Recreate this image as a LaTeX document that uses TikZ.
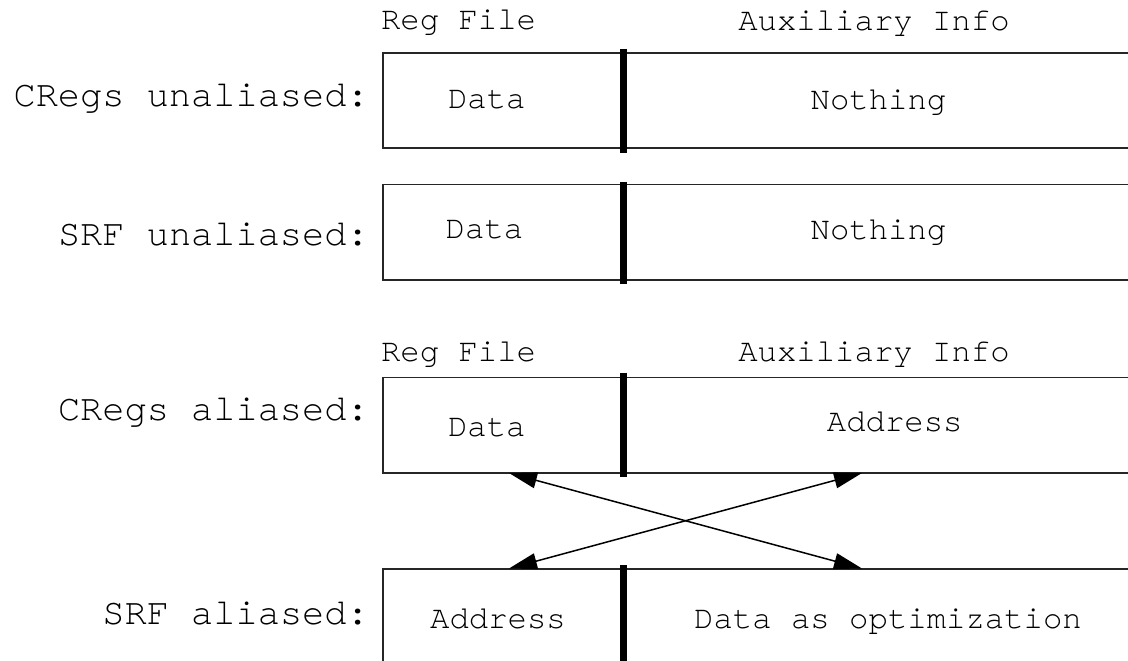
\documentclass[tikz,border=0pt]{standalone}
\usepackage{fontspec}
\setmonofont{TeX Gyre Cursor}
\usetikzlibrary{arrows.meta}
\begin{document}
\begin{tikzpicture}[x=1pt,y=-1pt,
  boxline/.style={draw=black!85, line width=1.5pt},
  divider/.style={draw=black, line width=7pt},
  cell/.style={font=\fontsize{32.3}{36}\selectfont\ttfamily, inner sep=0pt, anchor=base},
  lbl/.style={font=\fontsize{37}{42}\selectfont\ttfamily, inner sep=0pt, anchor=base east},
  link/.style={line width=1.5pt, {Triangle[length=28pt,width=16pt]}-{Triangle[length=28pt,width=16pt]}}]
\useasboundingbox (0,0) rectangle (1128,661);
\clip (0,0) rectangle (1128,661);

% row 1
\node[cell] (h1a) at (458.6,30) {Reg File};
\node[cell] (h1b) at (874,30.5) {Auxiliary Info};
\draw[boxline] (383,53) rectangle (1140,148);
\draw[divider] (623,49) -- (623,152.5);
\node[lbl] (l1) at (369,106.7) {CRegs unaliased:};
\node[cell] (d1) at (486.8,108.5) {Data};
\node[cell] (n1) at (878.5,109.5) {Nothing};

% row 2
\draw[boxline] (383,184.3) rectangle (1140,280);
\draw[divider] (623,181.7) -- (623,284);
\node[lbl] (l2) at (369,245) {SRF unaliased:};
\node[cell] (d2) at (484.5,238.5) {Data};
\node[cell] (n2) at (878.5,239.5) {Nothing};

% row 3
\node[cell] (h3a) at (458.6,361.7) {Reg File};
\node[cell] (h3b) at (874,361) {Auxiliary Info};
\draw[boxline] (383,377.3) rectangle (1140,473);
\draw[divider] (623,372.7) -- (623,476.7);
\node[lbl] (l3) at (369,420) {CRegs aliased:};
\node[cell] (d3) at (486.8,436.7) {Data};
\node[cell] (a3) at (894.7,431.7) {Address};

% row 4
\draw[boxline] (383,569) rectangle (1140,700);
\draw[divider] (623,565) -- (623,680);
\node[lbl] (l4) at (369,624) {SRF aliased:};
\node[cell] (a4) at (498,628) {Address};
\node[cell] (o4) at (888,628) {Data as optimization};

% connectors
\coordinate (t3l) at (509,473);
\coordinate (t3r) at (862,473);
\coordinate (t4l) at (509,568.5);
\coordinate (t4r) at (862,568.5);
\draw[link] (t3l) -- (t4r);
\draw[link] (t3r) -- (t4l);
\end{tikzpicture}
\end{document}
